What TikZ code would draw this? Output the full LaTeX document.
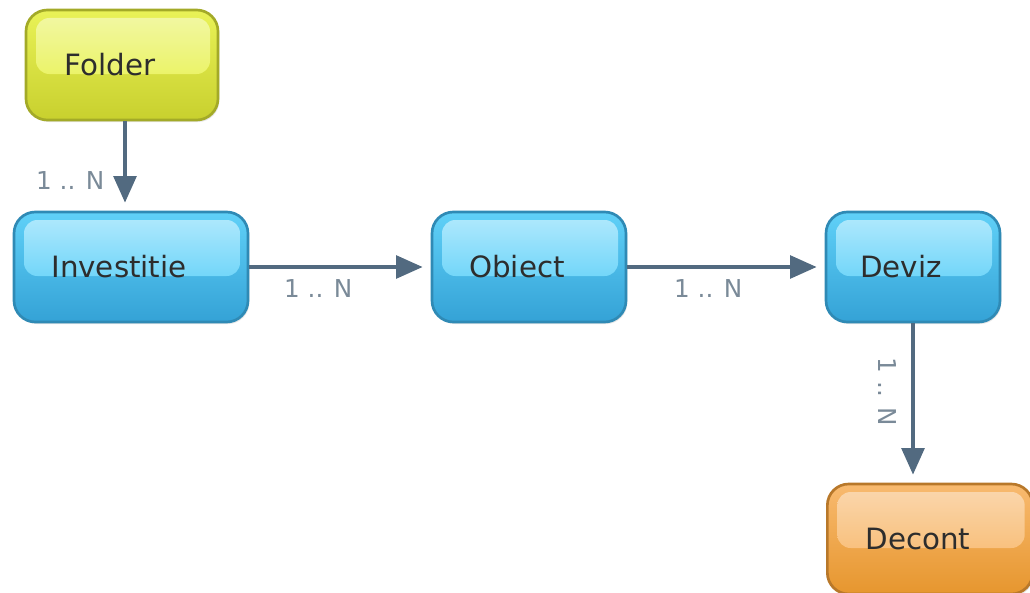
\documentclass[tikz,border=0pt]{standalone}
\usepackage{fontspec}
\setmainfont{DejaVu Sans}
\usetikzlibrary{arrows.meta,shadows}

\definecolor{linkgray}{RGB}{82,106,128}
\definecolor{lblgray}{RGB}{122,138,152}
\definecolor{txtdark}{RGB}{45,45,45}
% box colours: hi = gloss, mid, bot, edge
\definecolor{bluehi}{RGB}{180,234,253}
\definecolor{bluemid}{RGB}{68,200,246}
\definecolor{bluebot}{RGB}{52,162,214}
\definecolor{blueedge}{RGB}{47,138,181}
\definecolor{yellowhi}{RGB}{242,248,168}
\definecolor{yellowmid}{RGB}{230,240,60}
\definecolor{yellowbot}{RGB}{200,208,46}
\definecolor{yellowedge}{RGB}{163,170,40}
\definecolor{orangehi}{RGB}{250,216,176}
\definecolor{orangemid}{RGB}{248,176,90}
\definecolor{orangebot}{RGB}{230,150,46}
\definecolor{orangeedge}{RGB}{184,120,42}

\tikzset{every picture/.style={line width=0.75pt}}
\tikzset{
    entity/.style={draw=#1edge, line width=2pt, rounded corners=16pt, minimum height=82.5pt,
        top color=#1mid!75!#1hi, bottom color=#1bot,
        drop shadow={opacity=0.2, shadow xshift=1pt, shadow yshift=-1.5pt},
        path picture={\shade[rounded corners=10pt, top color=#1hi, bottom color=#1mid]
            ([xshift=7.5pt,yshift=-6pt]path picture bounding box.north west) rectangle
            ([xshift=-6pt,yshift=-48pt]path picture bounding box.north east);}},
    caption/.style={text=txtdark, font=\fontsize{22}{26}\selectfont, xshift=-9pt},
    link/.style={draw=linkgray, line width=3pt, -{Triangle[length=20pt,width=17pt]}, shorten >=6pt},
    card/.style={text=lblgray, font=\fontsize{18.5}{22}\selectfont, inner sep=2pt}
}

\begin{document}
\begin{tikzpicture}[x=0.75pt,y=0.75pt,yscale=-1,xscale=1]
        \useasboundingbox (0,0) rectangle (1030,592);

        % Entities
        \node [entity=yellow, minimum width=144pt, label={[caption]center:Folder}] (folder) at (122,65) {};
        \node [entity=blue, minimum width=175.5pt, label={[caption]center:Investitie}] (investitie) at (131,267) {};
        \node [entity=blue, minimum width=145.5pt, label={[caption]center:Obiect}] (obiect) at (529,267) {};
        \node [entity=blue, minimum width=130.5pt, label={[caption]center:Deviz}] (deviz) at (913,267) {};
        \node [entity=orange, minimum width=154pt, label={[caption]center:Decont}] (decont) at (930,539) {};

        % Links
        \draw [link] (folder.south -| 125,0) -- (investitie.north -| 125,0) node [card, pos=0.66, left=12pt] {1 .. N};
        \draw [link] (investitie.east) -- (obiect.west) node [card, pos=0.38, below=6pt] {1 .. N};
        \draw [link] (obiect.east) -- (deviz.west) node [card, pos=0.41, below=6pt] {1 .. N};
        \draw [link] (deviz.south) -- (decont.north -| deviz.south) node [card, pos=0.43, xshift=-9pt, rotate=-90, anchor=north] {1 .. N};
\end{tikzpicture}
\end{document}
